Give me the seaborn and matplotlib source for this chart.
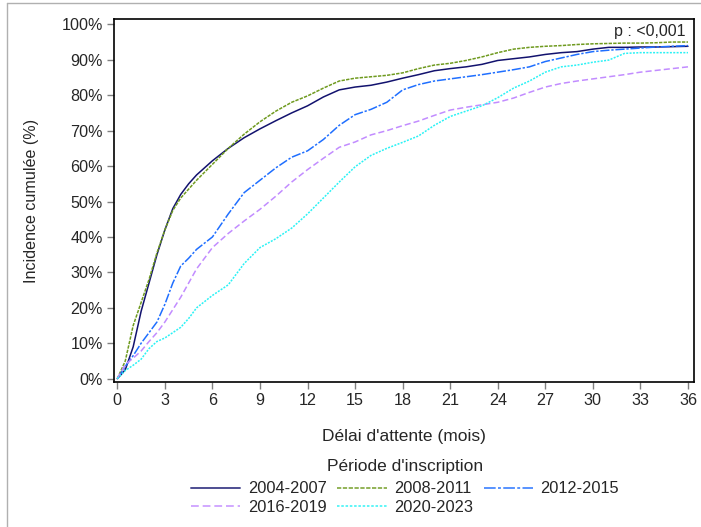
import numpy as np
import pandas as pd
import matplotlib
matplotlib.use("Agg")
import matplotlib.pyplot as plt
from matplotlib.lines import Line2D
import seaborn as sns

months = [0, 0.5, 1, 1.5, 2, 2.5, 3, 3.5, 4, 4.5, 5, 6, 7, 8, 9, 10, 11, 12, 13, 14, 15, 16, 17, 18,
          19, 20, 21, 22, 23, 24, 25, 26, 27, 28, 29, 30, 31, 32, 33, 34, 35, 36]

p2004_2007 = [0, 2.5, 9, 19, 27, 35, 42, 48, 52, 55, 57.5, 61.5, 65, 68, 70.5, 72.8, 75, 77, 79.5,
              81.5, 82.3, 82.8, 83.7, 84.8, 85.8, 86.9, 87.5, 88, 88.7, 89.8, 90.3, 90.8, 91.5, 92,
              92.3, 93, 93.5, 93.5, 93.6, 93.6, 93.7, 93.8]
p2008_2011 = [0, 5, 15, 21.5, 28, 35.5, 42, 47.5, 51, 53.5, 56, 60.5, 65, 69, 72.5, 75.5, 78, 79.8,
              82, 84, 84.8, 85.2, 85.6, 86.3, 87.5, 88.5, 89, 89.8, 90.8, 92, 93, 93.5, 93.8, 94,
              94.3, 94.5, 94.6, 94.7, 94.7, 94.8, 95, 95]
p2012_2015 = [0, 3.5, 6.5, 10, 13, 16, 21, 27, 31.8, 34, 36.5, 40, 46.5, 52.5, 56, 59.5, 62.5, 64.3,
              67.5, 71.5, 74.5, 76, 78, 81.5, 83, 84, 84.6, 85.2, 85.8, 86.5, 87.2, 88, 89.5, 90.5,
              91.5, 92.3, 92.7, 93, 93.3, 93.6, 93.8, 94]
p2016_2019 = [0, 4, 5.8, 7.8, 10.5, 13, 16, 19.5, 23, 27, 31, 37, 41, 44.5, 47.8, 51.5, 55.5, 59,
              62.2, 65.3, 66.8, 68.8, 70, 71.4, 72.7, 74.3, 75.8, 76.6, 77.3, 78, 79.2, 80.8, 82.3,
              83.3, 84, 84.6, 85.2, 85.8, 86.5, 87, 87.5, 88]
p2020_2023 = [0, 2.3, 3.8, 5.5, 8.5, 10.5, 11.5, 13, 14.5, 17, 20, 23.5, 26.5, 32.5, 37, 39.5, 42.5,
              46.5, 51, 55.5, 59.8, 63, 65, 66.7, 68.5, 71.5, 74, 75.5, 77, 79.3, 82, 84, 86.5, 88,
              88.5, 89.3, 89.9, 91.8, 92, 92, 92, 92]

periods = ["2004-2007", "2008-2011", "2012-2015", "2016-2019", "2020-2023"]
series = [p2004_2007, p2008_2011, p2012_2015, p2016_2019, p2020_2023]

x_ticks = list(range(0, 37, 3))
y_ticks = list(range(0, 101, 10))

colors = {"2004-2007": "#12126e", "2008-2011": "#6f9a1f", "2012-2015": "#1f6fff",
          "2016-2019": "#c28cff", "2020-2023": "#2af2f5"}
dashes = {"2004-2007": "", "2008-2011": (2.2, 0.8), "2012-2015": (6, 1.2, 1.5, 1.2),
          "2016-2019": (4, 2), "2020-2023": (1.3, 0.9)}

rows = []
for per, vals in zip(periods, series):
    for m, v in zip(months, vals):
        rows.append({"mois": m, "inc": v, "periode": per})
df = pd.DataFrame(rows)

sns.set_style("white")
plt.rcParams["font.family"] = ["Liberation Sans", "DejaVu Sans"]

fig = plt.figure(figsize=(7.01, 5.27), dpi=100)
ax = fig.add_axes([114 / 701, (527 - 382) / 527, (694 - 114) / 701, (382 - 19) / 527])

sns.lineplot(data=df, x="mois", y="inc", hue="periode", style="periode",
             palette=colors, dashes=dashes, hue_order=periods, style_order=periods,
             linewidth=1.1, legend=False, ax=ax)

ax.set_xlim(-0.21, 36.38)
ax.set_ylim(-0.93, 101.5)
ax.set_xticks(x_ticks)
ax.set_xticklabels([str(t) for t in x_ticks])
ax.set_yticks(y_ticks)
ax.set_yticklabels([f"{t}%" for t in y_ticks])
ax.tick_params(axis="both", direction="out", length=5, width=1, color="#808080",
               labelsize=11.6, pad=3, bottom=True, left=True)
for s in ax.spines.values():
    s.set_color("black")
    s.set_linewidth(1.2)
    s.set_visible(True)

ax.set_xlabel("Délai d'attente (mois)", fontsize=12.5, labelpad=15)
ax.set_ylabel("Incidence cumulée (%)", fontsize=11.6, labelpad=16)

ax.text(0.985, 0.985, "p : <0,001", transform=ax.transAxes, ha="right", va="top", fontsize=11.5)

order = [0, 3, 1, 4, 2]
handles = []
labels = []
for i in order:
    per = periods[i]
    d = dashes[per]
    h = Line2D([0], [0], color=colors[per], lw=1.4, alpha=0.75)
    if d != "":
        h.set_dashes(d)
    handles.append(h)
    labels.append(per)
fig.text(405 / 701, 1 - 467 / 527, "Période d'inscription", ha="center", va="center",
         fontsize=12.5)
fig.legend(handles, labels, ncol=3,
           loc="center", bbox_to_anchor=(405 / 701, 1 - 498 / 527),
           frameon=False, fontsize=11.8, handlelength=3.0,
           handletextpad=0.45, columnspacing=0.65, labelspacing=0.2, borderpad=0.2)

fig.add_artist(Line2D([7 / 701, 7 / 701], [0, 1 - 3 / 527], color="#b0b0b0", lw=1,
                      transform=fig.transFigure))
fig.add_artist(Line2D([7 / 701, 1], [1 - 3 / 527, 1 - 3 / 527], color="#b0b0b0", lw=1,
                      transform=fig.transFigure))

fig.savefig("out.png", dpi=100)
